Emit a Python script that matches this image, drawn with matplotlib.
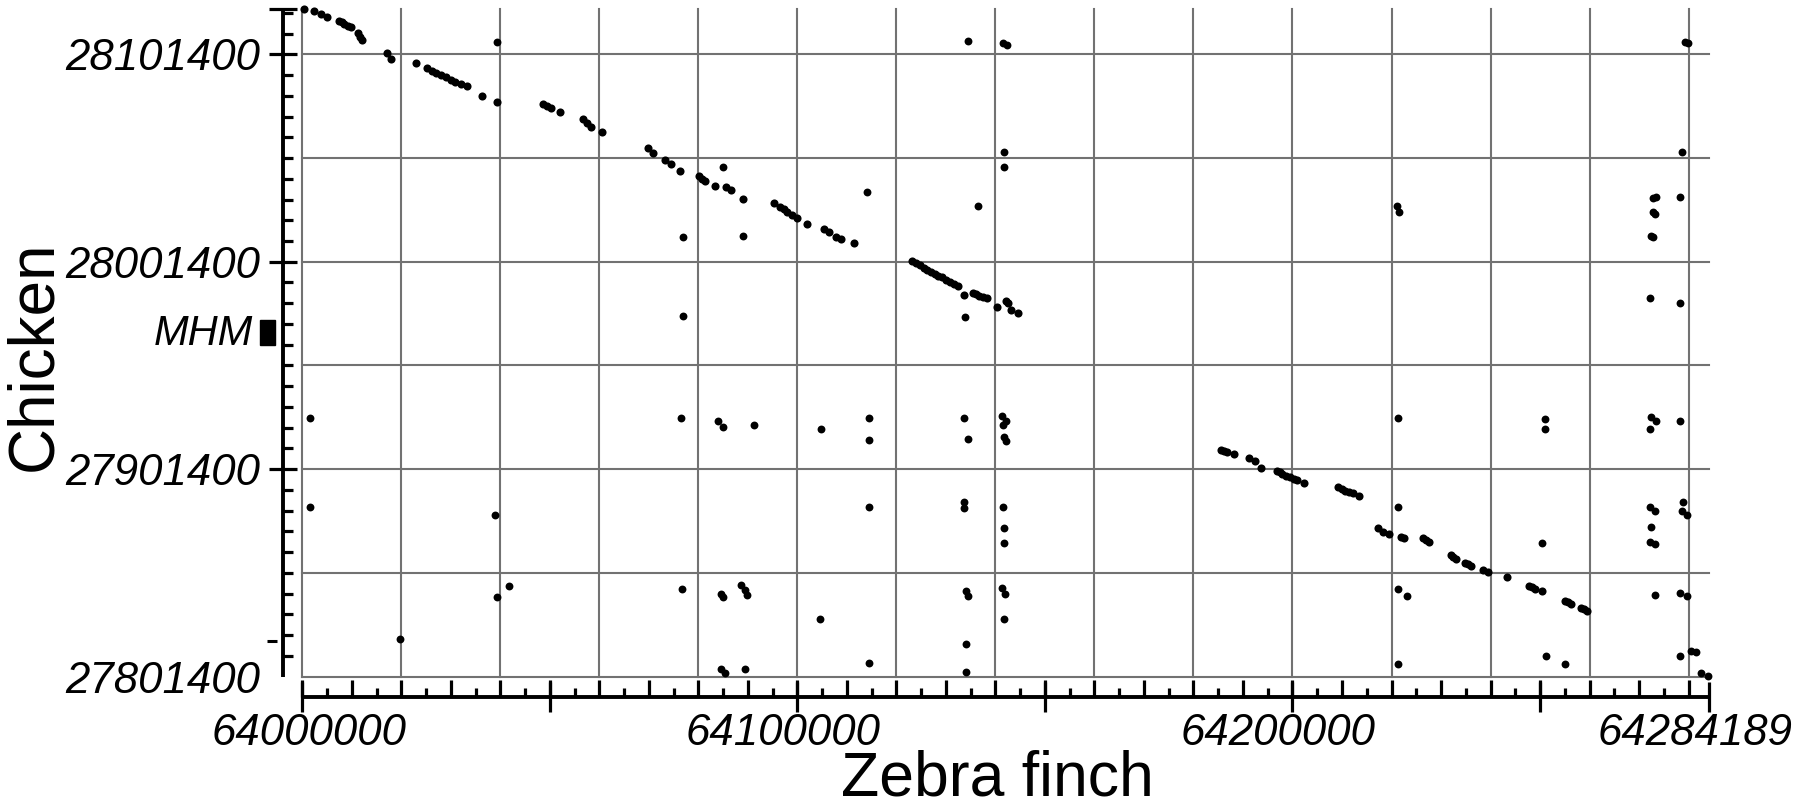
import matplotlib
matplotlib.use('Agg')
import matplotlib.pyplot as plt
import numpy as np
from matplotlib.patches import Rectangle
from matplotlib.transforms import blended_transform_factory, ScaledTranslation
from matplotlib.ticker import MultipleLocator, FixedLocator

plt.rcParams['font.family'] = ['Liberation Sans', 'DejaVu Sans']

# ---- axis ranges / ticks ----
X_START, X_END = 64000000, 64284189
Y_START, Y_END = 27801400, 28123400
x_grid = list(range(64000000, 64280001, 20000))
y_grid = list(range(27801400, 28101401, 50000))
x_tick_major = [64000000, 64050000, 64100000, 64150000, 64200000, 64250000, 64284189]
x_tick_labels = ['64000000', '', '64100000', '', '64200000', '', '64284189']
y_tick_major = [27801400, 27901400, 28001400, 28101400, 28123400]
y_tick_labels = ['27801400', '27901400', '28001400', '28101400', '']
y_tick_minor = list(range(27811400, 28121401, 10000))
MHM_start, MHM_end = 27961400, 27973400
stray_tick_y = 27818600

# ---- syntenic hits along the main alignment ----
diag_x = [64000400, 64002300, 64003700, 64004900, 64007400, 64008000, 64008500, 64009200,
          64009900, 64011200, 64011600, 64012000, 64017200, 64017900, 64023000, 64025100,
          64026100, 64027100, 64028000, 64029000, 64030000, 64030900, 64032100, 64033300,
          64036200, 64039400, 64048700, 64049500, 64050300, 64052000, 64056600, 64057500,
          64058400, 64060500, 64069800, 64070800, 64073300, 64074400, 64076200, 64080100,
          64080800, 64081400, 64083300, 64085600, 64086600, 64089100, 64095300, 64096500,
          64097200, 64098000, 64099000, 64099900, 64101900, 64105400, 64106400, 64107700,
          64108800, 64111500,
          64123100, 64123900, 64124700, 64125500, 64126200, 64127000, 64127800, 64128500,
          64129300, 64130100, 64130900, 64131600, 64132400, 64133700, 64135500, 64136100,
          64136700, 64137400, 64138200, 64140300, 64142100, 64142600, 64143200, 64144600,
          64185600, 64186200, 64186700, 64188100, 64191200, 64192400, 64193700, 64196800,
          64197400, 64197900, 64198700, 64199500, 64200300, 64201000, 64202400, 64209200,
          64209900, 64210700, 64211500, 64212200, 64213400, 64217300, 64218300, 64219400,
          64222000, 64222600, 64226300, 64227000, 64227500, 64232000, 64232500, 64233100,
          64234800, 64235400, 64236100, 64238500, 64239500, 64243400, 64247800, 64248400,
          64249000, 64250300, 64255100, 64255700, 64256300, 64258200, 64258800, 64259400]
diag_y = [28123200, 28122300, 28120900, 28119200, 28117600, 28116800, 28116000, 28115200,
          28114400, 28111500, 28109900, 28108300, 28101900, 28099000, 28097100, 28094700,
          28093400, 28092200, 28091300, 28090300, 28089200, 28088200, 28087200, 28086100,
          28081500, 28078600, 28077500, 28076400, 28075400, 28073600, 28070100, 28068300,
          28066500, 28064100, 28056100, 28054000, 28050400, 28048500, 28045300, 28042700,
          28041500, 28040300, 28037900, 28037300, 28036000, 28031600, 28029900, 28027900,
          28026700, 28025500, 28023900, 28022300, 28019600, 28017000, 28015900, 28013500,
          28012200, 28010300,
          28001900, 28000800, 27999800, 27998600, 27997400, 27996400, 27995500, 27994700,
          27993900, 27992800, 27991800, 27990700, 27989700, 27985400, 27986500, 27985700,
          27985000, 27984400, 27983700, 27979400, 27982500, 27981700, 27978100, 27976800,
          27910600, 27910200, 27909800, 27908700, 27906600, 27905300, 27901800, 27900700,
          27899800, 27899000, 27898200, 27897400, 27896800, 27896200, 27894900, 27892600,
          27891800, 27891000, 27890300, 27889700, 27888400, 27872800, 27871200, 27870100,
          27868700, 27868000, 27868000, 27867200, 27866400, 27860000, 27859000, 27857900,
          27856300, 27855600, 27854900, 27852800, 27851800, 27849200, 27845000, 27844400,
          27843800, 27842800, 27837800, 27837100, 27836400, 27834600, 27833900, 27833200]

# ---- other (off-diagonal) hits ----
other_x = [64039400, 64085000, 64076900, 64089100, 64076900, 64114000, 64133800, 64134500,
           64141500, 64142300, 64141700, 64141800, 64136500, 64076500, 64083900, 64084900,
           64091300, 64104700, 64114500, 64114500, 64133600, 64134500, 64141300, 64142100,
           64141500, 64141700, 64142200, 64114500, 64133600, 64133700, 64141500, 64141700,
           64141800, 64076600, 64084500, 64085000, 64088700, 64089400, 64089900, 64134100,
           64134500, 64141300, 64141900, 64104600, 64141700, 64134000, 64114500, 64084600,
           64085300, 64089500, 64134000, 64001600, 64001600, 64039000, 64039300, 64041800,
           64019700, 64279300, 64279800, 64278600, 64221100, 64221500, 64272900, 64273500,
           64272800, 64273300, 64272500, 64272900, 64278300, 64272300, 64278300, 64221400,
           64251100, 64251100, 64272500, 64273500, 64272300, 64278200, 64221400, 64272300,
           64273300, 64272500, 64272200, 64273300, 64278900, 64278600, 64279600, 64250300,
           64221400, 64223100, 64273200, 64278200, 64279600, 64251300, 64255000, 64221300,
           64280500, 64281600, 64278200, 64282600, 64284000]
other_y = [28107500, 28047200, 28013500, 28013800, 27975200, 28035200, 27974600, 28107800,
           28106900, 28105800, 28054200, 28047200, 28028300, 27925900, 27924800, 27921900,
           27922700, 27920800, 27926200, 27915400, 27926200, 27915800, 27927000, 27924800,
           27922700, 27917100, 27915100, 27883300, 27885700, 27882500, 27883000, 27873200,
           27865900, 27843400, 27841200, 27839900, 27845500, 27843100, 27840700, 27842800,
           27840200, 27843900, 27841200, 27829100, 27829100, 27817100, 27807800, 27805200,
           27803300, 27804900, 27803700, 27925900, 27883000, 27879300, 27839900, 27845200,
           27819500, 28107500, 28106900, 28054500, 28028300, 28025500, 28032000, 28032600,
           28025200, 28024600, 28014000, 28013400, 28032800, 27983700, 27981700, 27925900,
           27925400, 27920800, 27926700, 27924800, 27920800, 27924800, 27883300, 27883300,
           27881200, 27873300, 27866300, 27865500, 27885700, 27881400, 27879300, 27865600,
           27843400, 27840200, 27840700, 27841800, 27840200, 27811300, 27807400, 27807300,
           27813700, 27813200, 27811300, 27803300, 27801600]

# ---- figure ----
W, H = 1800, 809
fig = plt.figure(figsize=(W / 100, H / 100), dpi=100)
rect = [302.3 / W, 1 - 676.5 / H, 1407.0 / W, (676.5 - 8.7) / H]
ax = fig.add_axes(rect)
ax.set_xlim(X_START, X_END)
ax.set_ylim(Y_START, Y_END)

grid_color = '#727272'
for gx in x_grid:
    ax.axvline(gx, color=grid_color, lw=1.5, zorder=1, clip_on=False)
for gy in y_grid:
    ax.axhline(gy, color=grid_color, lw=1.5, zorder=1, clip_on=False)

ax.scatter(diag_x, diag_y, s=34, c='black', linewidths=0, zorder=3, clip_on=False)
ax.scatter(other_x, other_y, s=32, c='black', linewidths=0, zorder=3, clip_on=False)

# spines
for s in ['top', 'right']:
    ax.spines[s].set_visible(False)
ax.spines['left'].set_position(('outward', 13.7))
ax.spines['bottom'].set_position(('outward', 14.8))
for s in ['left', 'bottom']:
    ax.spines[s].set_linewidth(2.8)
    ax.spines[s].set_capstyle('butt')

tick_font = dict(family='Liberation Sans', style='italic', size=31.5)

# x: short/medium ticks on main axes
ax.xaxis.set_major_locator(MultipleLocator(10000))
ax.xaxis.set_minor_locator(MultipleLocator(5000))
ax.tick_params(axis='x', which='major', direction='in', length=12.2, width=2.3,
               labelbottom=False)
ax.tick_params(axis='x', which='minor', direction='in', length=6.8, width=2.3)

# y ticks
ax.yaxis.set_major_locator(FixedLocator(y_tick_major))
ax.set_yticklabels(y_tick_labels, fontdict=tick_font)
ax.yaxis.set_minor_locator(FixedLocator(y_tick_minor))
ax.tick_params(axis='y', which='major', direction='inout', length=20, width=2.3, pad=6.5)
ax.tick_params(axis='y', which='minor', direction='in', length=7, width=2.3)
ax.yaxis.get_major_ticks()[0].tick1line.set_visible(False)

# x: long ticks + labels on overlay axes
ax2 = fig.add_axes(rect)
ax2.set_xlim(X_START, X_END)
ax2.patch.set_visible(False)
for s in ax2.spines.values():
    s.set_visible(False)
ax2.spines['bottom'].set_position(('outward', 14.8))
ax2.set_yticks([])
ax2.xaxis.set_major_locator(FixedLocator(x_tick_major))
ax2.set_xticklabels(x_tick_labels, fontdict=tick_font)
ax2.tick_params(axis='x', which='major', direction='inout', length=21.6, width=2.3, pad=1)
label_shift_px = [7, 0, -14, 0, -14, 0, -14]
for lab, dx in zip(ax2.get_xticklabels(), label_shift_px):
    lab.set_transform(lab.get_transform() + ScaledTranslation(dx / 100, 0, fig.dpi_scale_trans))

# MHM marker
trans = blended_transform_factory(ax.transAxes, ax.transData)
ax.add_patch(Rectangle((-0.0299, MHM_start), 0.0104, MHM_end - MHM_start,
                       transform=trans, color='black', clip_on=False, zorder=4))
ax.text(-0.0353, MHM_start, 'MHM', transform=trans, ha='right', va='baseline',
        fontsize=30, style='italic', family='Liberation Sans')
# small stray tick left of the axis near the bottom
ax.plot([-0.0254, -0.0178], [stray_tick_y, stray_tick_y], transform=trans,
        color='black', lw=2.2, solid_capstyle='butt', clip_on=False)

# axis titles
fig.text(997.5 / W, 1 - 795.5 / H, 'Zebra finch', ha='center', va='baseline',
         fontsize=45, family='Liberation Sans')
fig.text(4.0 / W, 1 - 356 / H, 'Chicken', ha='left', va='center', rotation=90,
         fontsize=46, family='Liberation Sans')

fig.savefig('out.png', dpi=100)
